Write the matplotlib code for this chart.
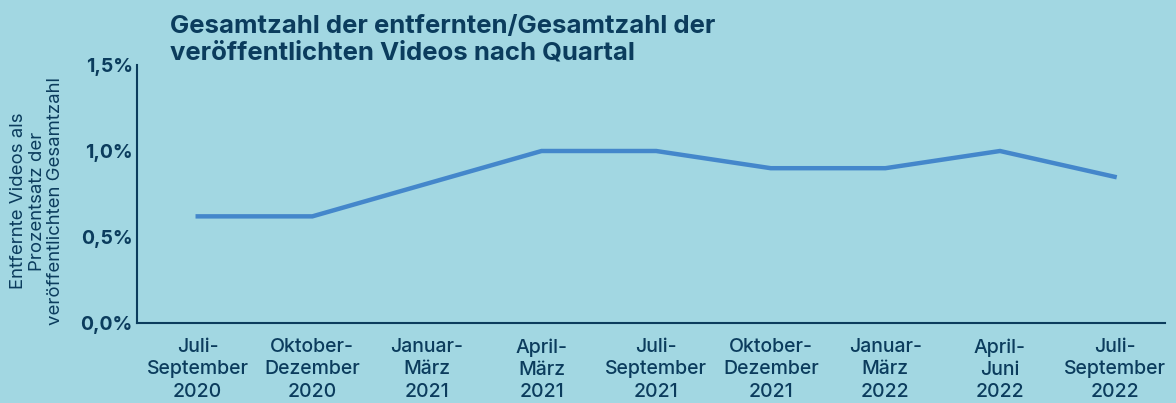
import matplotlib
matplotlib.use("Agg")
import matplotlib.pyplot as plt

categories = ["Juli-\nSeptember\n2020", "Oktober-\nDezember\n2020", "Januar-\nMärz\n2021",
              "April-\nMärz\n2021", "Juli-\nSeptember\n2021", "Oktober-\nDezember\n2021",
              "Januar-\nMärz\n2022", "April-\nJuni\n2022", "Juli-\nSeptember\n2022"]
values = [0.62, 0.62, 0.81, 1.0, 1.0, 0.9, 0.9, 1.0, 0.85]
yticks = [0.0, 0.5, 1.0, 1.5]
ytick_labels = ["0,0%", "0,5%", "1,0%", "1,5%"]
title = "Gesamtzahl der entfernten/Gesamtzahl der\nveröffentlichten Videos nach Quartal"
ylabel = "Entfernte Videos als\nProzentsatz der\nveröffentlichten Gesamtzahl"

bg = "#A2D7E2"
navy = "#0B3C5D"
line_c = "#4487CB"
plt.rcParams['font.family'] = ['Inter', 'DejaVu Sans']

fig = plt.figure(figsize=(11.76, 4.03), dpi=100, facecolor=bg)
ax = fig.add_axes([137/1176, 1-323/403, (1165-137)/1176, (323-65)/403])
ax.set_facecolor(bg)
x = list(range(len(values)))
ax.plot(x, values, color=line_c, lw=3.2, solid_joinstyle='miter')
ax.set_xlim(-0.53, 8.44)
ax.set_ylim(0, 1.5)
ax.set_yticks(yticks)
ax.set_yticklabels(ytick_labels, fontsize=14, fontweight='bold', color=navy)
ax.set_xticks(x)
ax.set_xticklabels(categories, fontsize=14, color=navy, linespacing=1.3, fontweight='medium')
ax.tick_params(axis='both', length=0)
ax.tick_params(axis='y', pad=3)
ax.tick_params(axis='x', pad=11)
for s in ['top', 'right']:
    ax.spines[s].set_visible(False)
for s in ['left', 'bottom']:
    ax.spines[s].set_color(navy)
    ax.spines[s].set_linewidth(1.5)

fig.text(170/1176, 1-15/403, title, fontsize=18.5, fontweight='bold', color=navy,
         ha='left', va='top', linespacing=1.2)
fig.text(37/1176, 1-201/403, ylabel, fontsize=13.4, color=navy, rotation=90,
         ha='center', va='center', multialignment='center', linespacing=1.12)

fig.savefig("out.png", dpi=100, facecolor=bg)
